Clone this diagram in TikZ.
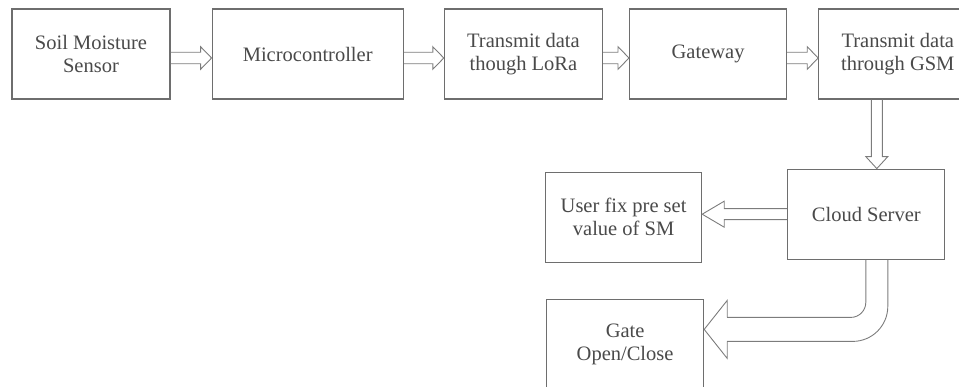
\documentclass[tikz,border=0pt]{standalone}
\usepackage{fontspec}
\setmainfont{Liberation Serif}
\usepackage{tikz}
\usetikzlibrary{positioning,calc}
\definecolor{FlowLine}{HTML}{6E6E6E}
\definecolor{FlowArrow}{HTML}{7C7C7C}
\definecolor{FlowText}{HTML}{4A4A4A}

\begin{document}
\begin{tikzpicture}[x=1pt,y=-1pt,
  stage/.style={draw=FlowLine,line width=1.2pt,fill=white,inner sep=0pt,minimum height=90pt,align=center,text=FlowText,font=\fontsize{20.5}{23}\selectfont},
  blk/.style={draw=FlowArrow,line width=0.9pt,line join=miter},
]
\path[use as bounding box,clip] (0,0) rectangle (959,387);
\node[stage,minimum width=158pt] (sms) at (91,54) {Soil Moisture\\Sensor};
\node[stage,minimum width=191pt,right=41pt of sms] (mcu) {Microcontroller};
\node[stage,minimum width=158pt,right=40pt of mcu] (lora) {Transmit data\\though LoRa};
\node[stage,minimum width=157pt,right=26pt of lora] (gw) {Gateway};
\node[stage,minimum width=158pt,right=31pt of gw] (gsm) {Transmit data\\through GSM};
\node[stage,minimum width=157pt,below=69pt of gsm,xshift=-31.5pt] (cloud) {Cloud Server};
\node[stage,minimum width=156pt,left=85pt of cloud,yshift=-3pt] (user) {User fix pre set\\value of SM};
\node[stage,minimum width=157pt,below=36pt of user,xshift=1.5pt] (gate) {Gate\\Open/Close};
% hollow arrows along the top row
\foreach \a/\b in {sms/mcu,mcu/lora,lora/gw,gw/gsm}
  \draw[blk] ($(\a.east)+(0,-1.75)$) -- ($(\b.west)+(-11,-1.75)$) -- ($(\b.west)+(-11,-7.3)$)
    -- ($(\b.west)+(0,4)$) -- ($(\b.west)+(-11,15.3)$) -- ($(\b.west)+(-11,9.75)$) -- ($(\a.east)+(0,9.75)$);
% down into the cloud
\coordinate (dn) at ($(cloud.north)+(10.5,0)$);
\draw[blk] ($(dn |- gsm.south)+(-5.5,0)$) -- ($(dn)+(-5.5,-12)$) -- ($(dn)+(-11,-12)$) -- (dn)
  -- ($(dn)+(11,-12)$) -- ($(dn)+(5.5,-12)$) -- ($(dn |- gsm.south)+(5.5,0)$);
% cloud to user
\coordinate (lt) at (user.east |- cloud.west);
\draw[blk] ($(cloud.west)+(0,-5.5)$) -- ($(lt)+(22,-5.5)$) -- ($(lt)+(22,-13)$) -- (lt)
  -- ($(lt)+(22,13)$) -- ($(lt)+(22,5.5)$) -- ($(cloud.west)+(0,5.5)$);
% bent arrow to the gate
\coordinate (cv) at ($(cloud.south)+(10.5,0)$);
\coordinate (gt) at ($(gate.east)+(0,-15)$);
\draw[blk,rounded corners=15pt] ($(cv)+(-11,0)$) -- ($(cv |- gt)+(-11,-12)$) -- ($(gt)+(23,-12)$);
\draw[blk,rounded corners=35pt] ($(cv)+(11,0)$) -- ($(cv |- gt)+(11,12)$) -- ($(gt)+(23,12)$);
\draw[blk] ($(gt)+(23,-12)$) -- ($(gt)+(23,-29)$) -- (gt) -- ($(gt)+(23,29)$) -- ($(gt)+(23,12)$);
\end{tikzpicture}
\end{document}
